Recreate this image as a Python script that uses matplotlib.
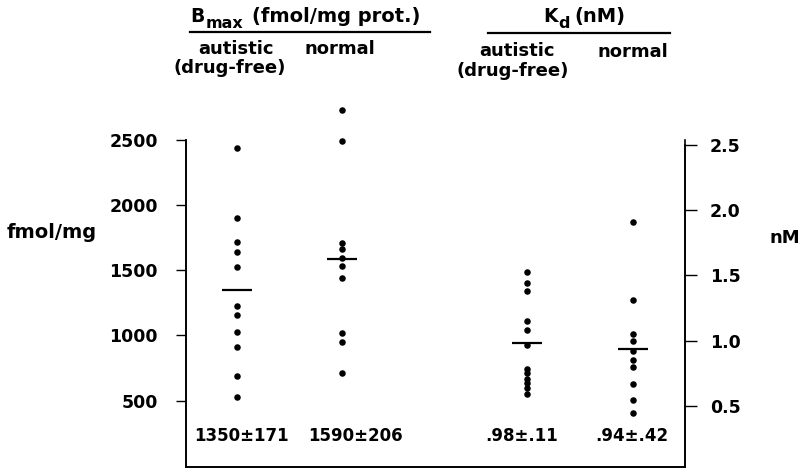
import numpy as np
import matplotlib.pyplot as plt

plt.rcParams['font.family'] = 'DejaVu Sans'
plt.rcParams['font.weight'] = 'bold'

# B_max, fmol/mg protein
bmax_autistic = [2440, 1900, 1720, 1640, 1525, 1230, 1160, 1025, 910, 690, 530]
bmax_normal = [2730, 2490, 1710, 1665, 1595, 1530, 1440, 1020, 950, 710]
# K_d, nM
kd_autistic = [1.53, 1.44, 1.38, 1.15, 1.08, 0.97, 0.78, 0.75, 0.71, 0.68, 0.64, 0.59]
kd_normal = [1.91, 1.31, 1.05, 1.00, 0.92, 0.85, 0.80, 0.67, 0.55, 0.45]

means = [1350, 1590, 0.98, 0.94]
sems = ['171', '206', '.11', '.42']
mean_text = ['1350', '1590', '.98', '.94']

W, H = 804, 472
xpos = [0, 1, 2.76, 3.77]
label_x = [0.04, 1.13, 2.71, 3.76]


def fx(px):
    return px / W


def fy(py):
    return 1 - py / H


fig = plt.figure(figsize=(W / 100, H / 100), dpi=100)
ax = fig.add_axes([fx(186), fy(467), (685 - 186) / W, (467 - 140) / H])
ax2 = ax.twinx()

ax.set_xlim(-0.486, 4.267)
ax.set_ylim(-9, 2500)
ax2.set_ylim(0.033, 2.538)

dot = dict(s=22, color='black', zorder=3, linewidths=0, clip_on=False)
ax.scatter([xpos[0]] * len(bmax_autistic), bmax_autistic, **dot)
ax.scatter([xpos[1]] * len(bmax_normal), bmax_normal, **dot)
ax2.scatter([xpos[2]] * len(kd_autistic), kd_autistic, **dot)
ax2.scatter([xpos[3]] * len(kd_normal), kd_normal, **dot)

hw = 0.145
for i, a in enumerate([ax, ax, ax2, ax2]):
    a.hlines(means[i], xpos[i] - hw, xpos[i] + hw, color='black', lw=1.6, zorder=2)
    a.text(label_x[i], 0.095, mean_text[i] + '±' + sems[i],
           transform=a.get_xaxis_transform(), ha='center', va='center',
           fontsize=12)

# axes frame: left, bottom, right only
ax.spines['top'].set_visible(False)
ax2.spines['top'].set_visible(False)
for a in (ax, ax2):
    for s in a.spines.values():
        s.set_linewidth(1.2)
ax.spines['left'].set_bounds(-9, 2500)
ax2.spines['right'].set_bounds(0.033, 2.5)

ax.set_xticks([])
ax.set_yticks([500, 1000, 1500, 2000, 2500])
ax.tick_params(axis='y', length=7.2, width=1, pad=13, labelsize=12.5)
ax2.set_yticks([0.5, 1.0, 1.5, 2.0, 2.5])
ax2.set_yticklabels(['0.5', '1.0', '1.5', '2.0', '2.5'])
ax2.tick_params(axis='y', length=8.6, width=1, pad=9.4, labelsize=12.5)

fig.text(fx(7), fy(233), 'fmol/mg', ha='left', va='center', fontsize=14)
fig.text(fx(785), fy(238), 'nM', ha='center', va='center', fontsize=13)

# column headers: B_max and K_d with hand-placed subscripts
fig.text(fx(190), fy(22), 'B', ha='left', va='baseline', fontsize=13.5)
fig.text(fx(206), fy(28), 'max', ha='left', va='baseline', fontsize=11.5)
fig.text(fx(252), fy(22), '(fmol/mg prot.)', ha='left', va='baseline', fontsize=14)
fig.text(fx(543), fy(22), 'K', ha='left', va='baseline', fontsize=13.5)
fig.text(fx(558), fy(28), 'd', ha='left', va='baseline', fontsize=11.5)
fig.text(fx(574), fy(22), '(nM)', ha='left', va='baseline', fontsize=14)
fig.add_artist(plt.Line2D([fx(190), fx(430)], [fy(32), fy(32)], color='black', lw=1.6))
fig.add_artist(plt.Line2D([fx(488), fx(670)], [fy(33), fy(33)], color='black', lw=1.6))

hdr = dict(ha='center', va='baseline', fontsize=13)
fig.text(fx(236), fy(54), 'autistic', **hdr)
fig.text(fx(230), fy(73), '(drug-free)', **hdr)
fig.text(fx(340), fy(54), 'normal', **hdr)
fig.text(fx(517), fy(56), 'autistic', **hdr)
fig.text(fx(513), fy(76), '(drug-free)', **hdr)
fig.text(fx(633), fy(57), 'normal', **hdr)

fig.savefig('out.png', dpi=100)
